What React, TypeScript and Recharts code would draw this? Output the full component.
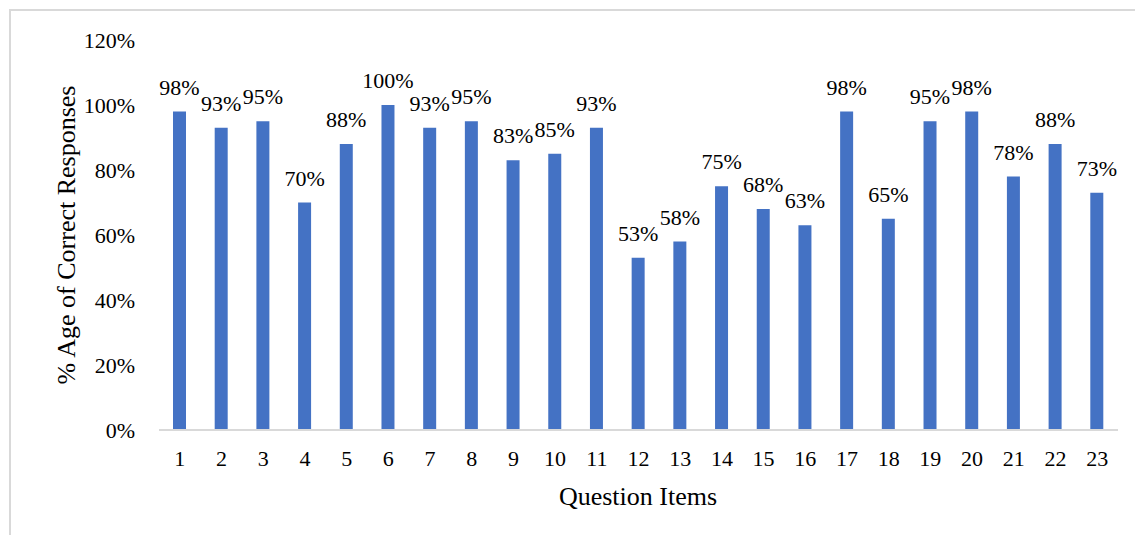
import React from "react";
import { BarChart, Bar, XAxis, YAxis, LabelList } from "recharts";

const items = [
  "1", "2", "3", "4", "5", "6", "7", "8", "9", "10", "11", "12",
  "13", "14", "15", "16", "17", "18", "19", "20", "21", "22", "23",
];
const correctPct = [
  98, 93, 95, 70, 88, 100, 93, 95, 83, 85, 93, 53, 58, 75, 68, 63, 98, 65,
  95, 98, 78, 88, 73,
];
const yTicks = [0, 20, 40, 60, 80, 100, 120];

const data = items.map((item, i) => ({ item, pct: correctPct[i] }));

const FONT = '"Liberation Serif", "Times New Roman", serif';

// custom renderers so the serif font sticks on every text
const XTick = (props: any) => (
  <text
    x={props.x}
    y={props.y}
    dy="0.71em"
    textAnchor="middle"
    fontSize={22}
    fill="#000"
    fontFamily={FONT}
  >
    {props.payload.value}
  </text>
);

const YTick = (props: any) => (
  <text
    x={props.x}
    y={props.y}
    dy="0.355em"
    textAnchor="end"
    fontSize={22}
    fill="#000"
    fontFamily={FONT}
  >
    {`${props.payload.value}%`}
  </text>
);

const BarLabel = (props: any) => (
  <text
    x={props.x + props.width / 2}
    y={props.y - 17}
    textAnchor="middle"
    fontSize={22}
    fill="#000"
    fontFamily={FONT}
  >
    {`${props.value}%`}
  </text>
);

export default function App() {
  return (
    <div
      style={{
        position: "fixed",
        left: 0,
        top: 0,
        width: 1135,
        height: 535,
        overflow: "hidden",
        background: "#fff",
        fontFamily: FONT,
      }}
    >
      <div
        style={{
          position: "absolute",
          left: 9,
          top: 9,
          width: 1200,
          height: 600,
          border: "2px solid #d9d9d9",
        }}
      />
      <div style={{ position: "absolute", left: 0, top: 0 }}>
        <BarChart
          width={1135}
          height={535}
          data={data}
          margin={{ top: 40, right: 17, bottom: 75, left: 79 }}
        >
          <XAxis
            dataKey="item"
            height={30}
            tickLine={false}
            tickSize={0}
            tickMargin={20}
            axisLine={{ stroke: "#d9d9d9", strokeWidth: 2 }}
            tick={XTick}
            interval={0}
          />
          <YAxis
            width={80}
            domain={[0, 120]}
            ticks={yTicks}
            axisLine={false}
            tickLine={false}
            tickSize={0}
            tickMargin={24}
            tick={YTick}
          />
          <Bar
            dataKey="pct"
            fill="#4472C4"
            barSize={13}
            isAnimationActive={false}
          >
            <LabelList dataKey="pct" content={BarLabel} />
          </Bar>
          <text
            x={75}
            y={235}
            transform="rotate(-90 75 235)"
            textAnchor="middle"
            fontSize={26}
            fill="#000"
            fontFamily={FONT}
          >
            % Age of Correct Responses
          </text>
          <text
            x={638}
            y={505}
            textAnchor="middle"
            fontSize={26}
            fill="#000"
            fontFamily={FONT}
          >
            Question Items
          </text>
        </BarChart>
      </div>
    </div>
  );
}
